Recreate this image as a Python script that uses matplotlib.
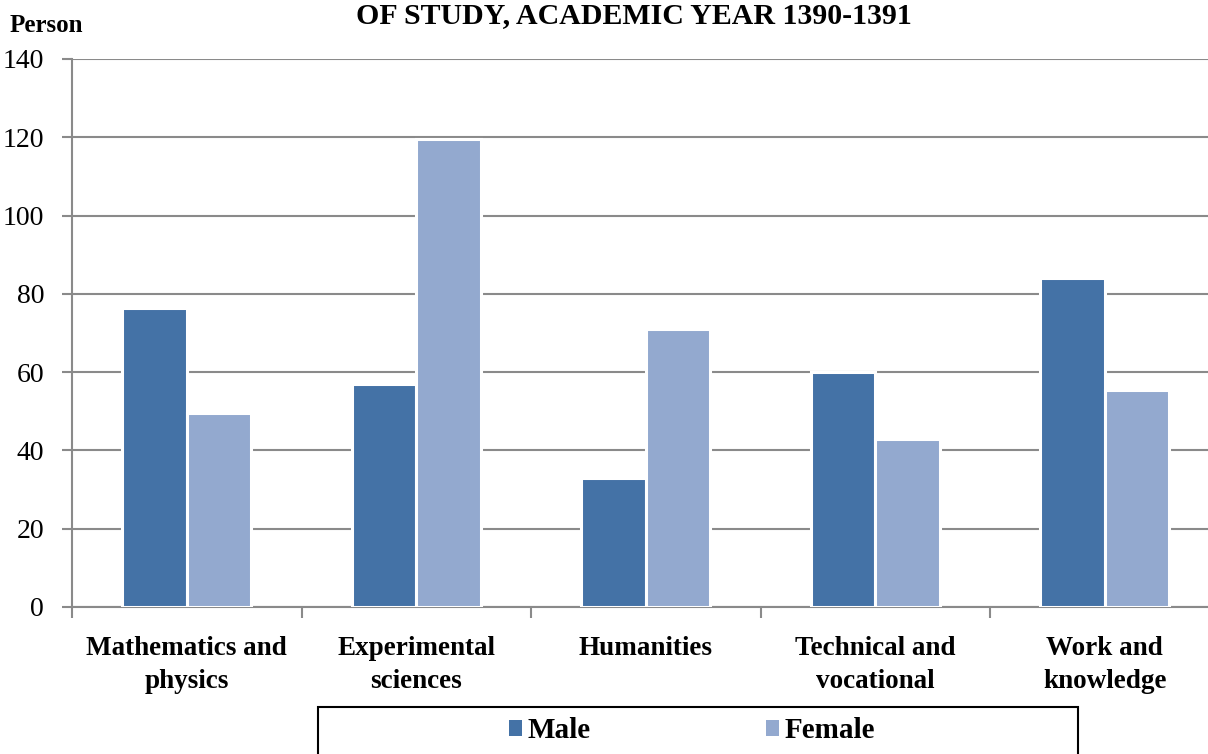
import numpy as np
import matplotlib.pyplot as plt
from matplotlib.patches import Rectangle, Patch
import matplotlib.patheffects as pe

plt.rcParams['font.family'] = ['Liberation Serif', 'DejaVu Serif']

# data
categories = ['Mathematics and\nphysics', 'Experimental\nsciences', 'Humanities',
              'Technical and\nvocational', 'Work and\nknowledge']
male = [76.5, 57, 33, 60, 84]
female = [49.5, 119.5, 71, 43, 55.5]
y_ticks = [0, 20, 40, 60, 80, 100, 120, 140]
series_names = ['Male', 'Female']
colors = ['#4472a6', '#93a9cf']

W, H = 1208, 754
fig = plt.figure(figsize=(W / 100, H / 100), dpi=100)
ax = fig.add_axes([72 / W, 1 - 607 / H, 1147.5 / W, 548 / H])

x = np.arange(len(categories))
bw = 0.28
shadow = [pe.SimplePatchShadow(offset=(1.5, -1.5), shadow_rgbFace='0.75', alpha=0.5), pe.Normal()]
for vals, off, c in [(male, -bw / 2, colors[0]), (female, bw / 2, colors[1])]:
    bars = ax.bar(x + off, vals, bw, color=c, edgecolor='white', linewidth=2.2, zorder=3)
    for b in bars:
        b.set_path_effects(shadow)

ax.set_xlim(-0.5, len(categories) - 0.5)
ax.set_ylim(0, 140)
ax.set_yticks(y_ticks)
ax.set_yticklabels([str(v) for v in y_ticks], fontsize=20)
ax.yaxis.grid(True, color='#8a8a8a', linewidth=1.5, zorder=0)
ax.set_axisbelow(True)

ax.set_xticks(x)
ax.set_xticklabels(categories, fontsize=19.5, fontweight='bold', linespacing=1.4)
ax.set_xticks(np.arange(len(categories) + 1) - 0.5, minor=True)
ax.tick_params(axis='x', which='major', length=0, pad=21)
ax.tick_params(axis='x', which='minor', length=8, width=1.5, color='#8a8a8a', direction='out')
ax.tick_params(axis='y', length=7, width=1.5, color='#8a8a8a', direction='out', pad=13)

for s in ['top', 'right']:
    ax.spines[s].set_visible(False)
for s in ['left', 'bottom']:
    ax.spines[s].set_color('#8a8a8a')
    ax.spines[s].set_linewidth(1.5)

fig.text(634 / W, 1 - 16 / H, 'OF STUDY, ACADEMIC YEAR 1390-1391', fontsize=21.5,
         fontweight='bold', ha='center', va='center')
fig.text(10 / W, 1 - 26 / H, 'Person', fontsize=18, fontweight='bold', ha='left', va='center')

# legend box
fig.patches.append(Rectangle((318 / W, -0.01), (1078 - 318) / W, 1 - 707 / H + 0.01,
                             transform=fig.transFigure, fill=False, edgecolor='black',
                             linewidth=1.5))
handles = [Patch(facecolor=c, edgecolor='none') for c in colors]
fig.legend(handles, series_names, loc='center', bbox_to_anchor=(692 / W, 1 - 731 / H),
           ncol=2, frameon=False, prop={'size': 21, 'weight': 'bold'},
           handlelength=0.45, handleheight=0.45, handletextpad=0.2, columnspacing=6.0)

fig.savefig('out.png', dpi=100)
